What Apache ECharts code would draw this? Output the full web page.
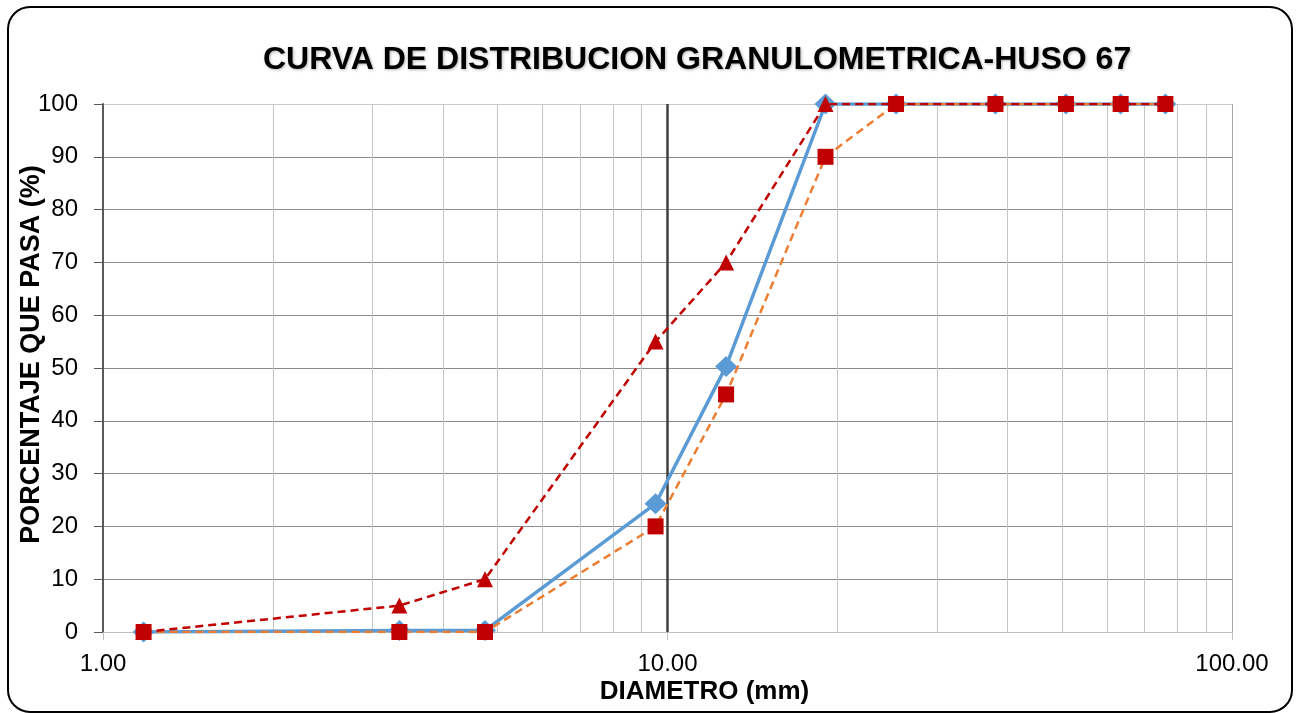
<!DOCTYPE html>
<html>
<head>
<meta charset="utf-8">
<script src="https://cdn.jsdelivr.net/npm/echarts@6/dist/echarts.min.js"></script>
<style>
html,body{margin:0;padding:0;background:#fff;}
#c{width:1298px;height:713px;}
</style>
</head>
<body>
<div id="c"></div>
<script>
const titleText = 'CURVA DE DISTRIBUCION GRANULOMETRICA-HUSO 67';
const xName = 'DIAMETRO (mm)';
const yName = 'PORCENTAJE QUE PASA (%)';
const diametro = [1.18, 3.35, 4.75, 9.525, 12.7, 19.05, 25.4, 38.1, 50.8, 63.5, 76.2];
const pasaMuestra = [0, 0.3, 0.3, 24.3, 50.3, 100, 100, 100, 100, 100, 100];
const limiteInferior = [0, 0, 0, 20, 45, 90, 100, 100, 100, 100, 100];
const limiteSuperior = [0, 5, 10, 55, 70, 100, 100, 100, 100, 100, 100];
const minorGrid = [2, 3, 4, 5, 6, 7, 8, 9, 20, 30, 40, 50, 60, 70, 80, 90];
const majorGrid = [10];

const pairs = (xs, ys) => xs.map((x, i) => [x, ys[i]]);
const FONT = '"Liberation Sans", Arial, sans-serif';

const chart = echarts.init(document.getElementById('c'), null, {renderer: 'canvas'});
const hColors = ['#bfbfbf','#8c8c8c','#8c8c8c','#8c8c8c','#8c8c8c','#8c8c8c','#8c8c8c','#8c8c8c','#8c8c8c','#8c8c8c','#c8c8c8'];
chart.setOption({
  animation: false,
  backgroundColor: '#fff',
  title: {
    text: titleText,
    left: 258,
    top: 39,
    textStyle: {
      fontFamily: FONT, fontSize: 32, fontWeight: 'bold', color: '#000',
      textShadowColor: 'rgba(0,0,0,0.3)', textShadowBlur: 3, textShadowOffsetX: 1, textShadowOffsetY: 1
    }
  },
  graphic: [{
    type: 'rect', silent: true, z: 100,
    shape: {x: 8, y: 7, width: 1284, height: 705, r: 22},
    style: {fill: 'none', stroke: '#000', lineWidth: 2}
  }],
  grid: {left: 103, right: 66, top: 104, bottom: 81, containLabel: false, outerBoundsMode: 'none'},
  xAxis: {
    type: 'log', logBase: 10, min: 1, max: 100,
    name: xName, nameLocation: 'middle', nameGap: 47, nameMoveOverlap: false,
    nameTextStyle: {fontFamily: FONT, fontSize: 26, fontWeight: 'bold', color: '#000', padding: [0, 0, 0, 74]},
    axisLine: {show: true, lineStyle: {color: '#bfbfbf', width: 1}},
    axisTick: {show: true, length: 8, lineStyle: {color: '#bfbfbf'}},
    axisLabel: {fontFamily: FONT, fontSize: 24, color: '#000', margin: 20,
      formatter: v => Number(v).toFixed(2)},
    splitLine: {show: true, lineStyle: {color: ['#bfbfbf', '#404040', '#a6a6a6'], width: 1}}
  },
  yAxis: {
    type: 'value', min: 0, max: 100, interval: 10,
    name: yName, nameLocation: 'middle', nameGap: 58, nameRotate: 90, nameMoveOverlap: false,
    nameTextStyle: {fontFamily: FONT, fontSize: 27, fontWeight: 'bold', color: '#000', padding: [0, 0, 0, 27]},
    axisLine: {show: true, lineStyle: {color: '#595959', width: 2}},
    axisTick: {show: true, length: 9, lineStyle: {color: '#595959'}},
    axisLabel: {fontFamily: FONT, fontSize: 24, color: '#000', margin: 25},
    splitLine: {show: true, lineStyle: {color: hColors, width: 1}}
  },
  series: [
    {
      name: 'Muestra', type: 'line', data: pairs(diametro, pasaMuestra),
      symbol: 'diamond', symbolSize: [22, 21], z: 3,
      lineStyle: {color: '#5B9BD5', width: 3.5},
      itemStyle: {color: '#5B9BD5'},
      markLine: {
        silent: true, symbol: 'none', label: {show: false}, z: 1,
        lineStyle: {color: '#c4c4c4', type: 'solid', width: 1},
        data: minorGrid.map(v => ({xAxis: v})).concat(majorGrid.map(v => ({xAxis: v, lineStyle: {color: '#404040', width: 2.5}})))
      }
    },
    {
      name: 'Limite inferior', type: 'line', data: pairs(diametro, limiteInferior),
      showSymbol: false, symbol: 'none', z: 4,
      lineStyle: {color: '#ED7D31', width: 2.5, type: [8, 5]}
    },
    {
      name: 'Limite superior', type: 'line', data: pairs(diametro, limiteSuperior),
      symbol: 'triangle', symbolSize: 16, z: 5,
      lineStyle: {color: '#C00000', width: 2.5, type: [8, 5]},
      itemStyle: {color: '#C00000'}
    },
    {
      name: 'Limite inferior marcas', type: 'scatter', data: pairs(diametro, limiteInferior),
      symbol: 'rect', symbolSize: 16, z: 6,
      itemStyle: {color: '#C00000', opacity: 1}
    }
  ]
});
</script>
</body>
</html>
